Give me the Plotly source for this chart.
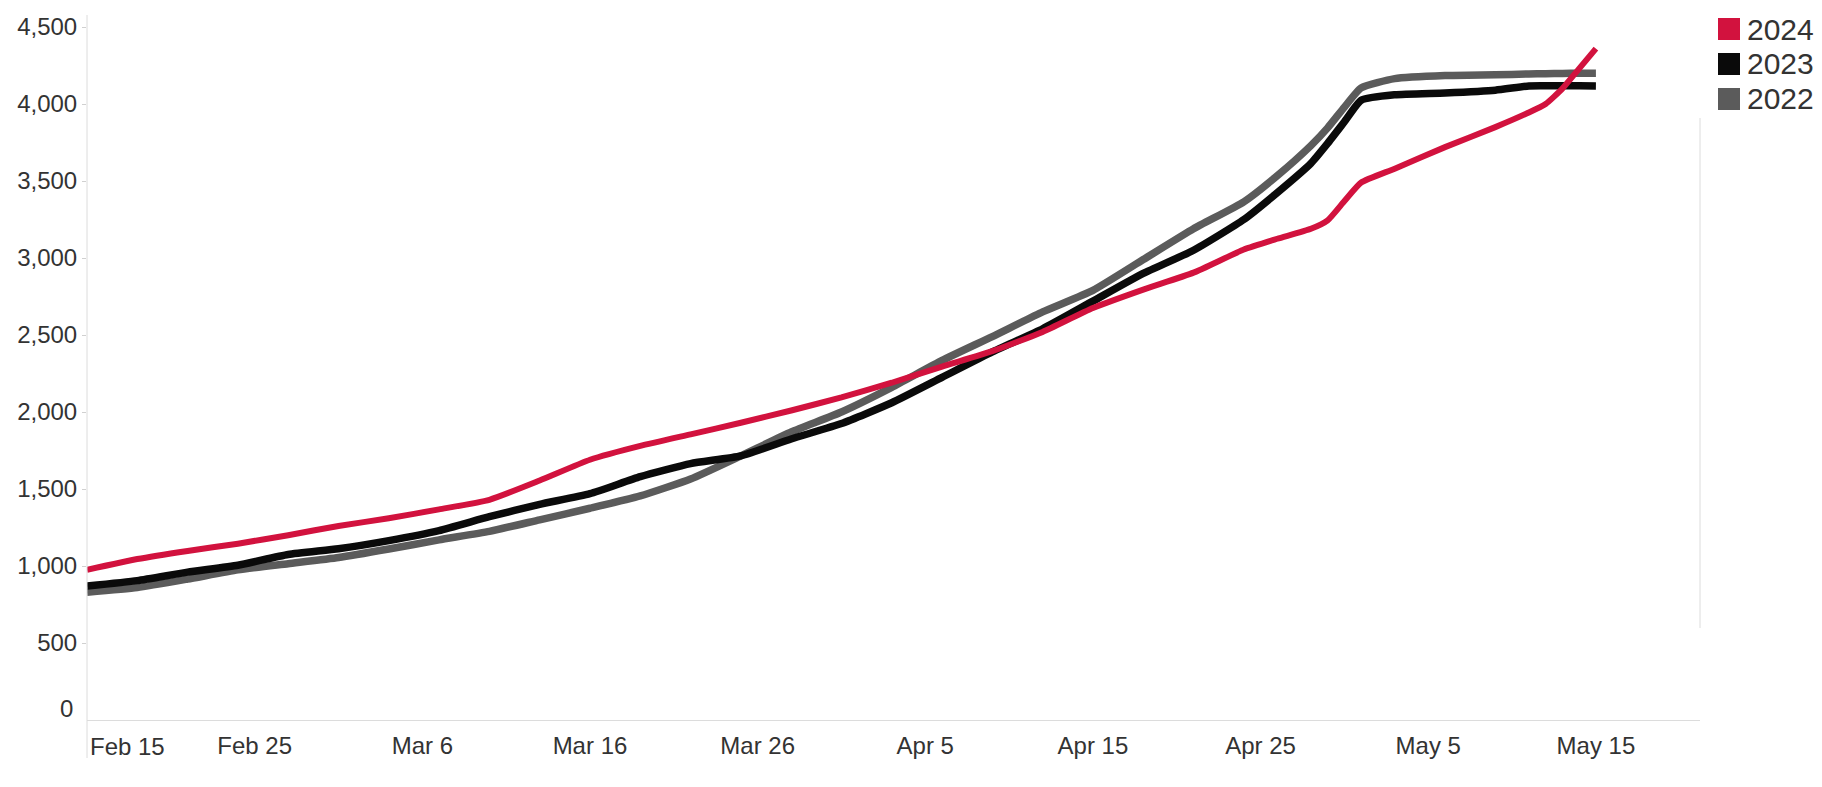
import plotly.graph_objects as go

# Cumulative totals by calendar day, each year aligned on the 2024 calendar
dates = [
    "2024-02-15", "2024-02-18", "2024-02-21", "2024-02-24", "2024-02-27",
    "2024-03-01", "2024-03-04", "2024-03-07", "2024-03-10", "2024-03-13",
    "2024-03-16", "2024-03-19", "2024-03-22", "2024-03-25", "2024-03-28",
    "2024-03-31", "2024-04-03", "2024-04-06", "2024-04-09", "2024-04-12",
    "2024-04-15", "2024-04-18", "2024-04-21", "2024-04-24", "2024-04-26",
    "2024-04-28", "2024-04-29", "2024-04-30", "2024-05-01", "2024-05-03",
    "2024-05-06", "2024-05-09", "2024-05-11", "2024-05-12", "2024-05-13",
    "2024-05-14", "2024-05-15",
]

y2024 = [
    975, 1045, 1098, 1145, 1200,
    1260, 1310, 1368, 1430, 1555,
    1690, 1780, 1855, 1930, 2010,
    2095, 2190, 2295, 2395, 2520,
    2675, 2795, 2905, 3055, 3125,
    3190, 3245, 3370, 3490, 3580,
    3720, 3850, 3945, 4000, 4100,
    4230, 4360,
]

y2023 = [
    870, 905, 960, 1005, 1075,
    1112, 1165, 1230, 1320, 1400,
    1470, 1580, 1665, 1715, 1825,
    1925, 2060, 2225, 2390, 2540,
    2720, 2900, 3050, 3250, 3425,
    3615, 3745, 3885, 4025, 4060,
    4072, 4090, 4117, 4118, 4118,
    4118, 4117,
]

y2022 = [
    830, 860, 915, 975, 1015,
    1055, 1110, 1170, 1225, 1300,
    1375, 1455, 1565, 1715, 1870,
    2000, 2160, 2335, 2490, 2650,
    2790, 2990, 3190, 3365, 3535,
    3730, 3845, 3980, 4105, 4165,
    4185, 4190, 4195, 4197, 4198,
    4200, 4200,
]

years = ["2024", "2023", "2022"]
year_values = {"2024": y2024, "2023": y2023, "2022": y2022}
year_colors = {"2024": "#d2123e", "2023": "#0a0a0a", "2022": "#5b5b5b"}
year_widths = {"2024": 6, "2023": 7.5, "2022": 7.5}

x_tick_dates = [
    "2024-02-15", "2024-02-25", "2024-03-06", "2024-03-16", "2024-03-26",
    "2024-04-05", "2024-04-15", "2024-04-25", "2024-05-05", "2024-05-15",
]
x_tick_labels = [
    "Feb 15", "Feb 25", "Mar 6", "Mar 16", "Mar 26",
    "Apr 5", "Apr 15", "Apr 25", "May 5", "May 15",
]
y_tick_values = [0, 500, 1000, 1500, 2000, 2500, 3000, 3500, 4000, 4500]
y_tick_labels = ["0", "500", "1,000", "1,500", "2,000", "2,500",
                 "3,000", "3,500", "4,000", "4,500"]

FONT = "Liberation Sans, Arial, sans-serif"
TEXT = "#333333"
AXIS = "#dcdcdc"
TICK_SIZE = 24

W, H = 1822, 787
L, R, T, B = 87, 1700, 15, 720


def px_x(p):
    return (p - L) / (R - L)


def px_y(p):
    return (B - p) / (B - T)


fig = go.Figure()

# draw order: 2022 underneath, 2024 on top
for yr in reversed(years):
    fig.add_trace(go.Scatter(
        x=dates, y=year_values[yr], name=yr, mode="lines",
        line=dict(color=year_colors[yr], width=year_widths[yr],
                  shape="spline", smoothing=0.5),
        showlegend=False, hoverinfo="x+y+name",
    ))

# axis tick labels; the first x label and the zero label sit inside the pane edges
fig.update_xaxes(
    type="date",
    range=["2024-02-15", "2024-05-21 05:00"],
    tickvals=x_tick_dates[1:], ticktext=x_tick_labels[1:],
    showgrid=False, zeroline=False,
    showline=True, linecolor=AXIS, linewidth=1,
    ticks="", ticklabelstandoff=4,
    tickfont=dict(family=FONT, size=TICK_SIZE, color=TEXT),
)
fig.update_yaxes(
    range=[0, 4578],
    tickvals=y_tick_values[1:], ticktext=y_tick_labels[1:],
    showgrid=False, zeroline=False, showline=False,
    ticks="outside", ticklen=4, tickcolor="#d0d0d0", tickwidth=1,
    tickfont=dict(family=FONT, size=TICK_SIZE, color=TEXT),
)

annotations = [
    dict(x=x_tick_dates[0], xref="x", y=0, yref="paper",
         text=x_tick_labels[0], showarrow=False,
         xanchor="left", yanchor="middle", xshift=1, yshift=-26,
         font=dict(family=FONT, size=TICK_SIZE, color=TEXT)),
    dict(x=0, xref="paper", y=y_tick_values[0], yref="y",
         text=y_tick_labels[0], showarrow=False,
         xanchor="right", yanchor="middle", xshift=-12, yshift=12,
         font=dict(family=FONT, size=TICK_SIZE, color=TEXT)),
]

shapes = [
    # left axis rule, running down past the date labels
    dict(type="line", xref="paper", yref="paper",
         x0=0, x1=0, y0=px_y(758), y1=1,
         line=dict(color=AXIS, width=1)),
    # right pane border
    dict(type="line", xref="paper", yref="paper",
         x0=1, x1=1, y0=px_y(628), y1=px_y(118),
         line=dict(color=AXIS, width=1)),
]

# colour legend: swatches with year labels
legend_rows = [29, 64, 99]
for yr, cy in zip(years, legend_rows):
    shapes.append(dict(
        type="rect", xref="paper", yref="paper",
        x0=px_x(1718), x1=px_x(1740), y0=px_y(cy + 11), y1=px_y(cy - 11),
        fillcolor=year_colors[yr], line=dict(width=0),
    ))
    annotations.append(dict(
        x=px_x(1745), xref="paper", y=px_y(cy), yref="paper",
        text=yr, showarrow=False, xanchor="left", yanchor="middle",
        font=dict(family=FONT, size=30, color=TEXT),
    ))

fig.update_layout(
    width=W, height=H,
    margin=dict(l=L, r=W - R, t=T, b=H - B),
    paper_bgcolor="white", plot_bgcolor="white",
    showlegend=False,
    annotations=annotations, shapes=shapes,
)

fig.write_html("out.html")
